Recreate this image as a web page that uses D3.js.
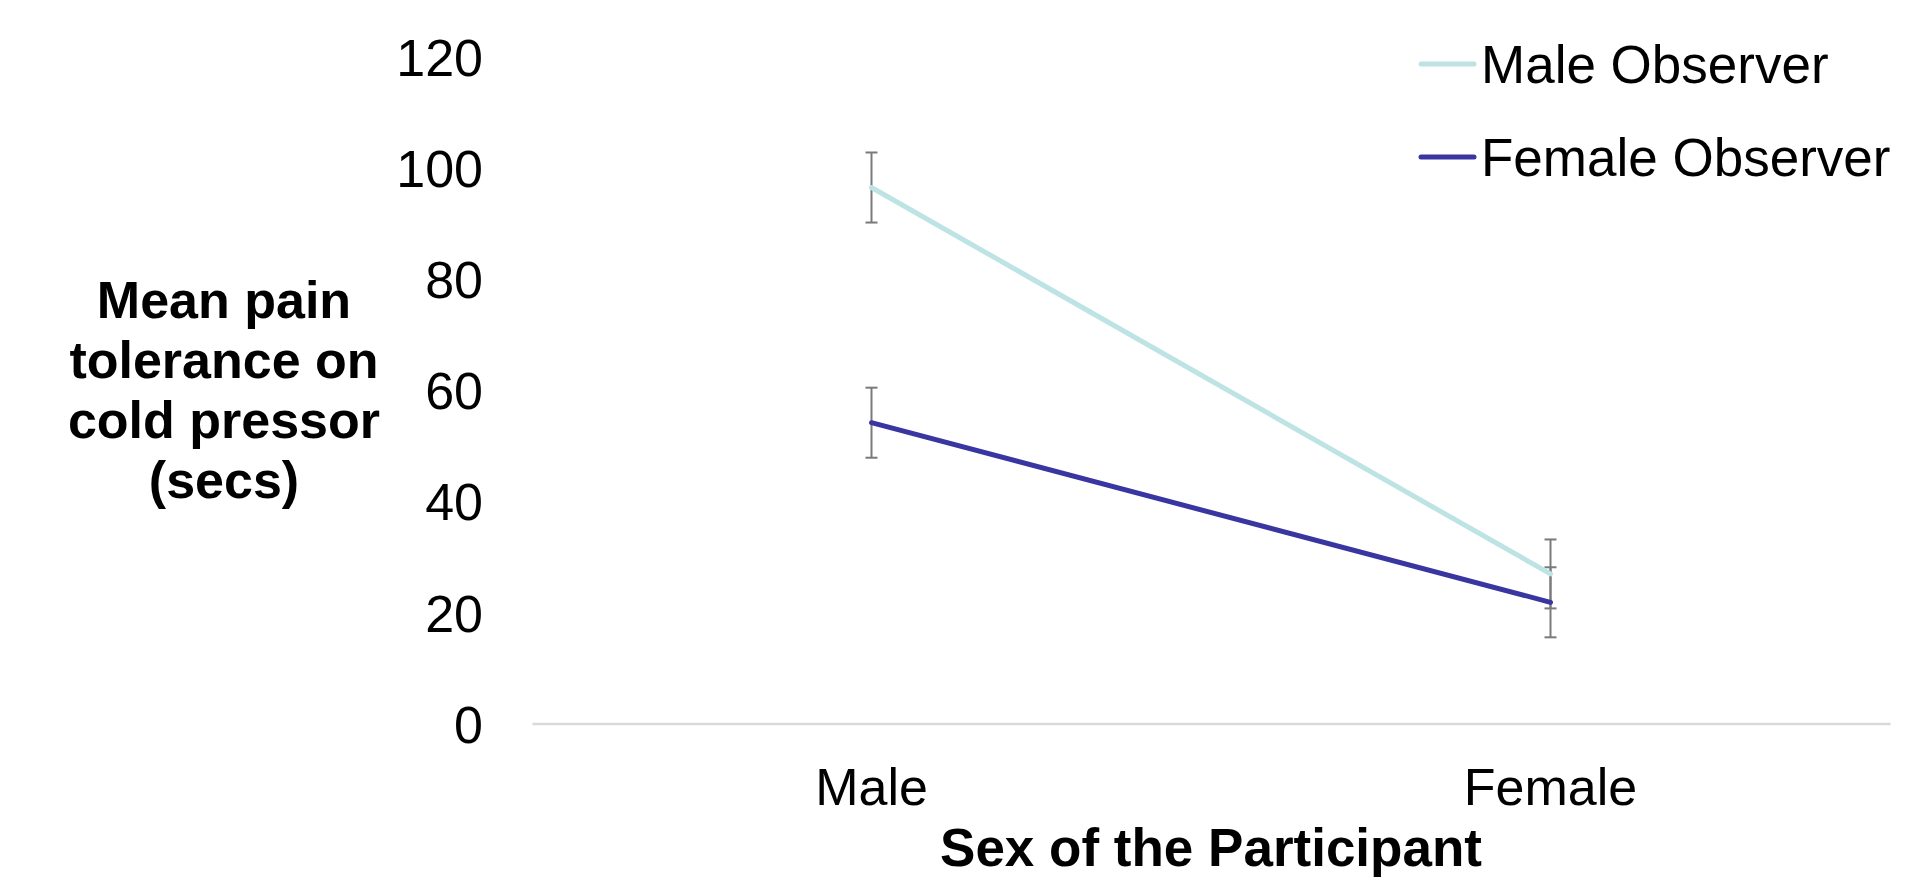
<!DOCTYPE html>
<html>
<head>
<meta charset="utf-8">
<script src="https://cdn.jsdelivr.net/npm/d3@7"></script>
<style>
  html, body { margin: 0; padding: 0; background: #ffffff; }
  svg { display: block; }
  text { font-family: "Liberation Sans", Arial, Helvetica, sans-serif; fill: #000; }
</style>
</head>
<body>
<svg id="chart" width="1929" height="878"></svg>
<script>
// ---- data ----
const categories = ["Male", "Female"];
const seriesNames = ["Male Observer", "Female Observer"];
const maleObserver = [96.4, 26.9];
const femaleObserver = [54.1, 21.8];
const maleObserverErr = [6.3, 6.2];
const femaleObserverErr = [6.3, 6.3];
const yTicks = [0, 20, 40, 60, 80, 100, 120];
const colors = ["#bde3e5", "#3a36a1"];
const yTitleLines = ["Mean pain", "tolerance on", "cold pressor", "(secs)"];
const xTitle = "Sex of the Participant";

const series = [
  { name: seriesNames[0], values: maleObserver, err: maleObserverErr, color: colors[0] },
  { name: seriesNames[1], values: femaleObserver, err: femaleObserverErr, color: colors[1] }
];

// ---- layout ----
const svg = d3.select("#chart");
const plotLeft = 532, plotRight = 1890, plotTop = 56.3, plotBottom = 723.5;
const FONT = 52;

const x = d3.scaleBand().domain(categories).range([plotLeft, plotRight]).paddingInner(0).paddingOuter(0);
const xc = c => x(c) + x.bandwidth() / 2;
const y = d3.scaleLinear().domain([0, 120]).range([plotBottom, plotTop]);

// y axis (labels only)
const yAxis = svg.append("g")
  .attr("transform", `translate(${plotLeft},0)`)
  .call(d3.axisLeft(y).tickValues(yTicks).tickSize(0).tickPadding(0));
yAxis.select(".domain").remove();
yAxis.selectAll("text")
  .attr("x", 483 - plotLeft)
  .attr("dy", "0.36em")
  .style("font-size", FONT + "px")
  .style("font-family", '"Liberation Sans", Arial, sans-serif')
  .attr("fill", "#000");

// x axis
const xAxis = svg.append("g")
  .attr("transform", `translate(0,${y(0)})`)
  .call(d3.axisBottom(x).tickSize(0).tickSizeOuter(0));
xAxis.select(".domain").attr("stroke", "#d9d9d9").attr("stroke-width", 2.5);
xAxis.selectAll("text")
  .attr("y", 805 - y(0))
  .attr("dy", 0)
  .style("font-size", FONT + "px")
  .style("font-family", '"Liberation Sans", Arial, sans-serif')
  .attr("fill", "#000");

// error bars
const capHalf = 6;
series.forEach(s => {
  const g = svg.append("g");
  categories.forEach((c, i) => {
    const cx = xc(c);
    const hi = y(s.values[i] + s.err[i]);
    const lo = y(s.values[i] - s.err[i]);
    g.append("line").attr("x1", cx).attr("x2", cx).attr("y1", hi).attr("y2", lo)
      .attr("stroke", "#7a7a7a").attr("stroke-width", 2);
    [hi, lo].forEach(yy => {
      g.append("line").attr("x1", cx - capHalf).attr("x2", cx + capHalf).attr("y1", yy).attr("y2", yy)
        .attr("stroke", "#7a7a7a").attr("stroke-width", 2);
    });
  });
});

// lines
const line = d3.line().x((d, i) => xc(categories[i])).y(d => y(d));
series.forEach(s => {
  svg.append("path")
    .datum(s.values)
    .attr("d", line)
    .attr("fill", "none")
    .attr("stroke", s.color)
    .attr("stroke-width", 5)
    .attr("stroke-linecap", "round");
});

// legend
const legendY = [64, 157];
series.forEach((s, i) => {
  svg.append("line")
    .attr("x1", 1421).attr("x2", 1474)
    .attr("y1", legendY[i]).attr("y2", legendY[i])
    .attr("stroke", s.color).attr("stroke-width", 5).attr("stroke-linecap", "round");
  svg.append("text")
    .attr("x", 1481).attr("y", legendY[i])
    .attr("dy", "0.36em")
    .style("font-size", "53px")
    .text(s.name);
});

// y title
const yt = svg.append("text")
  .attr("text-anchor", "middle")
  .style("font-size", FONT + "px")
  .style("font-weight", "bold");
yTitleLines.forEach((t, i) => {
  yt.append("tspan").attr("x", 224).attr("y", 318 + i * 60).text(t);
});

// x title
svg.append("text")
  .attr("x", 1211)
  .attr("y", 866)
  .attr("text-anchor", "middle")
  .style("font-size", "53px")
  .style("font-weight", "bold")
  .text(xTitle);
</script>
</body>
</html>
